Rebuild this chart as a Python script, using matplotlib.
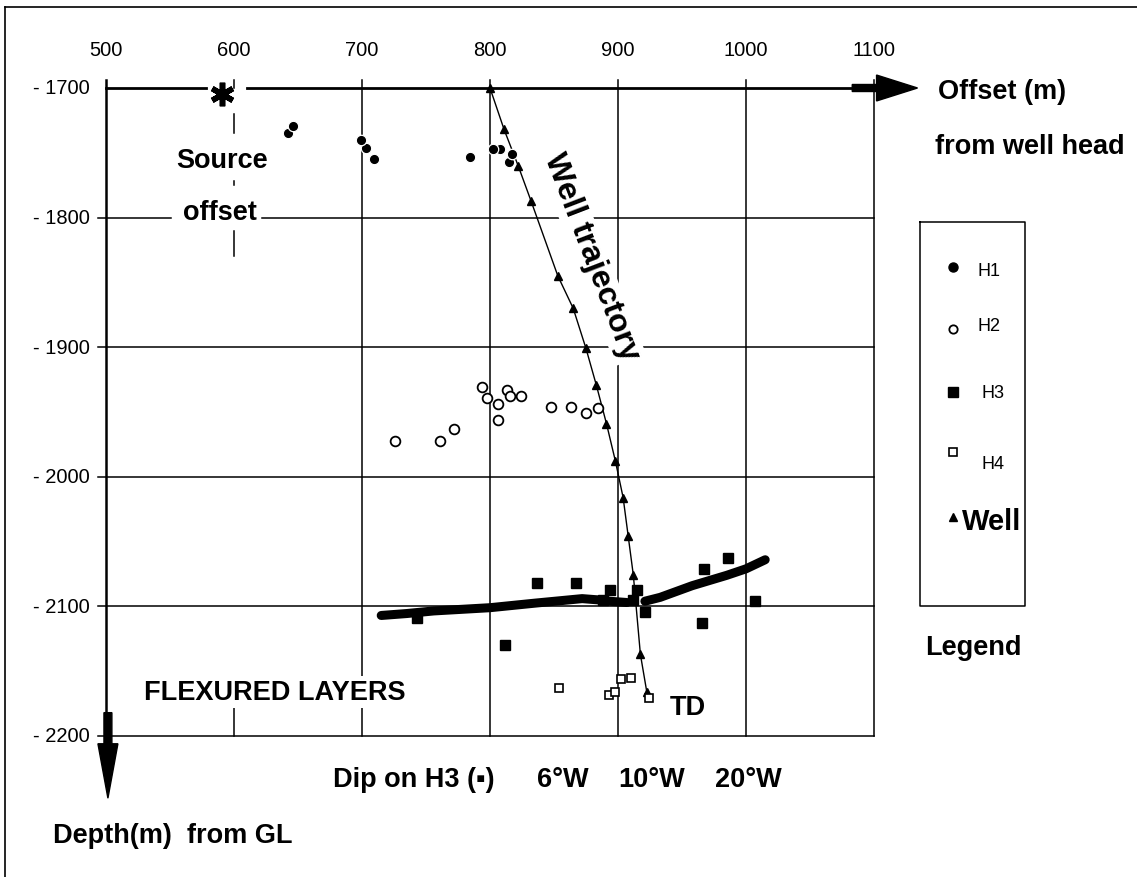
import matplotlib
matplotlib.use("Agg")
import matplotlib.pyplot as plt
from matplotlib.lines import Line2D

# picks (offset m, depth m)
h1_x = [642, 646, 703, 699, 709, 784, 808, 802, 815, 817]
h1_y = [-1735, -1729, -1746, -1740, -1755, -1753, -1747, -1747, -1757, -1751]

h2_x = [726, 761, 772, 794, 798, 806, 806, 813, 816, 824, 848, 863, 875, 884]
h2_y = [-1972, -1972, -1963, -1931, -1939, -1944, -1956, -1933, -1938, -1938, -1946, -1946, -1951, -1947]

h3_x = [743, 812, 837, 867, 888, 894, 912, 915, 921, 967, 966, 986, 1007]
h3_y = [-2109, -2130, -2082, -2082, -2095, -2087, -2095, -2087, -2104, -2071, -2113, -2063, -2096]

# dense H3 picks forming the continuous band
band1_x = [715, 735, 756, 800, 835, 872, 885, 893, 907]
band1_y = [-2107, -2105.5, -2103.5, -2101, -2097.5, -2094, -2095, -2096, -2097]
band2_x = [921, 933, 958, 985, 1000, 1015]
band2_y = [-2096, -2093, -2084, -2076, -2071, -2064]

h4_x = [854, 893, 898, 902, 910, 924]
h4_y = [-2163, -2168, -2166, -2156, -2155, -2171]

well_x = [800, 811, 822, 832, 853, 865, 875, 883, 891, 898, 904, 908, 912, 917.5, 922.5]
well_y = [-1700, -1732, -1760, -1787, -1845, -1870, -1901, -1929, -1959, -1988, -2016, -2046, -2076, -2137, -2166]

src_x, src_y = 591, -1705

x_ticks = [500, 600, 700, 800, 900, 1000, 1100]
y_ticks = [-1700, -1800, -1900, -2000, -2100, -2200]
dip_labels = ['6°W', '10°W', '20°W']
dip_x = [836.7, 900, 975.8]

W, H = 1137, 878
fig = plt.figure(figsize=(W / 100, H / 100), dpi=100)
ax = fig.add_axes([0, 0, 1, 1])
ax.set_xlim(500 - 106 / 1.28, 500 + (W - 106) / 1.28)
ax.set_ylim(-1700 - (H - 89) / 1.296, -1700 + 89 / 1.296)
ax.axis('off')

FONT = ['Liberation Sans', 'DejaVu Sans']
lw_grid = 1.1

# frame of the figure
fig.add_artist(Line2D([5 / W, 5 / W], [0, 1 - 8 / H], color='k', lw=1.2))
fig.add_artist(Line2D([5 / W, 1], [1 - 8 / H, 1 - 8 / H], color='k', lw=1.2))

# top axis line with gap around the source star, arrow at the end
ax.plot([500, 578], [-1700, -1700], color='k', lw=2)
ax.plot([610, 1084], [-1700, -1700], color='k', lw=2)
ax.arrow(1083, -1700, 51, 0, width=5.4, head_width=20, head_length=32,
         length_includes_head=True, color='k')

# left axis and depth arrow
ax.plot([500, 500], [-1694, -2182], color='k', lw=1.8)
ax.arrow(501.5, -2182, 0, -66, width=6.2, head_width=15.6, head_length=42,
         length_includes_head=True, color='k')

# horizontal grid
ax.plot([494, 551], [-1800, -1800], color='k', lw=lw_grid)
ax.plot([622, 1100], [-1800, -1800], color='k', lw=lw_grid)
for yv in [-1900, -2000, -2100]:
    ax.plot([494, 1100], [yv, yv], color='k', lw=lw_grid)
ax.plot([494, 1100], [-2200, -2200], color='k', lw=lw_grid)

# vertical grid
for xv in [700, 800, 900, 1000, 1100]:
    ax.plot([xv, xv], [-1694, -2200], color='k', lw=lw_grid, zorder=1)
ax.plot([600, 600], [-2200, -2177], color='k', lw=lw_grid)
ax.plot([600, 600], [-1720, -1735], color='k', lw=lw_grid)
ax.plot([600, 600], [-1772, -1775], color='k', lw=lw_grid)
ax.plot([600, 600], [-1810, -1830], color='k', lw=lw_grid)
ax.plot([600, 600], [-1694, -1700], color='k', lw=lw_grid)

# tick labels
for xv in x_ticks:
    ax.text(xv, -1670, str(xv), ha='center', va='center', fontsize=14.5, family=FONT)
for yv in y_ticks:
    ax.text(487.5, yv, str(yv).replace('-', '- '), ha='right', va='center',
            fontsize=14.5, family=FONT)

# well trajectory
ax.plot(well_x, well_y, color='k', lw=1.0, zorder=3)
ax.plot(well_x, well_y, '^', color='k', ms=6, zorder=4)
ax.text(879, -1830, 'Well trajectory', rotation=-69, rotation_mode='anchor',
        ha='center', va='center', fontsize=23, fontweight='bold', family=FONT,
        bbox=dict(facecolor='white', edgecolor='none', pad=1), zorder=2)

# horizons
ax.plot(h1_x, h1_y, 'o', ms=7.5, mfc='k', mec='white', mew=0.9, zorder=5)
ax.plot(h2_x, h2_y, 'o', ms=7, mfc='white', mec='k', mew=1.3, zorder=5)
ax.plot(band1_x, band1_y, color='k', lw=6.5, solid_capstyle='round', zorder=5)
ax.plot(band2_x, band2_y, color='k', lw=6.5, solid_capstyle='round', zorder=5)
ax.plot(h3_x, h3_y, 's', ms=7, color='k', zorder=6)
ax.plot(h4_x, h4_y, 's', ms=6, mfc='white', mec='k', mew=1.2, zorder=6)

# source position
ax.plot(src_x, src_y, marker=(6, 2, 0), ms=17, mew=4, color='k', zorder=6)

# annotations
big = dict(fontsize=19.5, fontweight='bold', family=FONT)
ax.text(1150, -1702, 'Offset (m)', ha='left', va='center', **big)
ax.text(1148, -1745, 'from well head', ha='left', va='center', **big)
ax.text(590.6, -1761, 'Source', ha='center', va='baseline', **big)
ax.text(589, -1801, 'offset', ha='center', va='baseline', **big)
ax.text(529.7, -2171.5, 'FLEXURED LAYERS', ha='left', va='baseline', zorder=2,
        bbox=dict(facecolor='white', edgecolor='none', pad=2), **big)
ax.text(940.6, -2183, 'TD', ha='left', va='baseline', **big)
ax.text(677, -2238.6, 'Dip on H3 (\u25aa)', ha='left', va='baseline', **big)
for lx, lab in zip(dip_x, dip_labels):
    ax.text(lx, -2238.6, lab, ha='left', va='baseline', **big)
ax.text(458.6, -2281.8, 'Depth(m)  from GL', ha='left', va='baseline', **big)
ax.text(1139.8, -2136.7, 'Legend', ha='left', va='baseline', **big)

# legend box
ax.plot([1136, 1218, 1218, 1136, 1136], [-1803.4, -1803.4, -2099.7, -2099.7, -1803.4],
        color='k', lw=1.1)
small = dict(fontsize=13, family=FONT, ha='left', va='center')
ax.plot(1161.7, -1838, 'o', ms=6.5, color='k')
ax.text(1181, -1841, 'H1', **small)
ax.plot(1161.7, -1886, 'o', ms=6, mfc='white', mec='k', mew=1.3)
ax.text(1181, -1883.6, 'H2', **small)
ax.plot(1161.7, -1934.6, 's', ms=6.5, color='k')
ax.text(1184, -1934.6, 'H3', **small)
ax.plot(1161.7, -1981, 's', ms=6, mfc='white', mec='k', mew=1.2)
ax.text(1184, -1990, 'H4', **small)
ax.plot(1161.7, -2031, '^', ms=5.5, color='k')
ax.text(1168.7, -2034, 'Well', ha='left', va='center', fontsize=21,
        fontweight='bold', family=FONT)

fig.savefig('out.png', dpi=100)
